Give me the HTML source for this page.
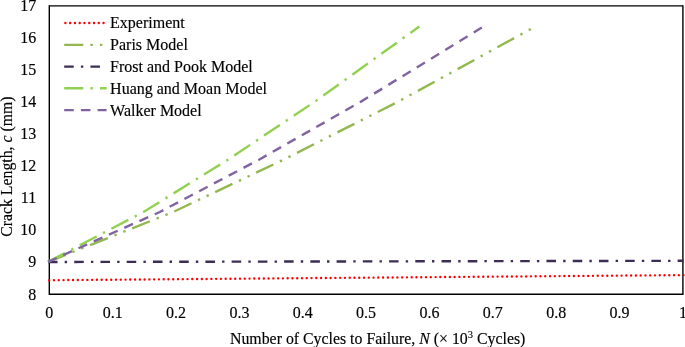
<!DOCTYPE html>
<html><head><meta charset="utf-8"><style>
html,body{margin:0;padding:0;background:#fff;}
svg{display:block;will-change:transform;}
text{font-family:"Liberation Serif",serif;font-size:16px;fill:#000;stroke:#000;stroke-width:0.15px;}
</style></head><body>
<svg width="685" height="347" viewBox="0 0 685 347">
<rect width="685" height="347" fill="#fff"/>
<g stroke="#000" stroke-width="1.4" fill="none">
<path d="M49.30,5.20 V294.90"/>
<path d="M682.90,5.20 V294.90"/>
<path d="M49.30,5.90 H682.90"/>
<path d="M49.30,294.20 H682.90"/>
</g>
<g fill="none" stroke-width="2.385">
<path d="M49.19,280.2 L684.10,275.1" stroke="#FF0000" stroke-dasharray="0.01 4.760" stroke-linecap="round"/>
<path d="M48.00,261.86 L173.15,211.98 L283.46,159.71 L398.72,101.39 L535.32,26.53" stroke="#93B850" stroke-dasharray="19.080 7.155 2.385 7.155 2.385 7.155"/>
<path d="M48.00,262.0 L683.50,260.8" stroke="#3D2D56" stroke-dasharray="9.540 7.155 2.385 7.155"/>
<path d="M48.00,261.86 L143.49,211.98 L227.93,159.71 L315.20,101.39 L419.31,26.53" stroke="#92D050" stroke-dasharray="19.080 7.155 2.385 7.155"/>
<path d="M48.00,261.86 L159.78,211.98 L258.95,159.71 L361.43,101.39 L483.40,26.53" stroke="#8064A2" stroke-dasharray="9.540 7.155"/>
</g>

<path d="M65.39,23.0 L106.60,23.0" stroke="#FF0000" stroke-width="2.385" stroke-dasharray="0.01 4.760" stroke-linecap="round" fill="none"/><text x="110.1" y="28.40">Experiment</text><path d="M64.20,44.9 L106.60,44.9" stroke="#93B850" stroke-width="2.385" stroke-dasharray="19.080 7.155 2.385 7.155 2.385 7.155" stroke-linecap="butt" fill="none"/><text x="110.1" y="50.30">Paris Model</text><path d="M64.20,66.6 L106.60,66.6" stroke="#3D2D56" stroke-width="2.385" stroke-dasharray="9.540 7.155 2.385 7.155" stroke-linecap="butt" fill="none"/><text x="110.1" y="72.00">Frost and Pook Model</text><path d="M64.20,88.3 L106.60,88.3" stroke="#92D050" stroke-width="2.385" stroke-dasharray="19.080 7.155 2.385 7.155" stroke-linecap="butt" fill="none"/><text x="110.1" y="93.70">Huang and Moan Model</text><path d="M64.20,110.1 L106.60,110.1" stroke="#8064A2" stroke-width="2.385" stroke-dasharray="9.540 7.155" stroke-linecap="butt" fill="none"/><text x="110.1" y="115.50">Walker Model</text>
<text x="49.30" y="318.2" text-anchor="middle">0</text><text x="112.66" y="318.2" text-anchor="middle">0.1</text><text x="176.02" y="318.2" text-anchor="middle">0.2</text><text x="239.38" y="318.2" text-anchor="middle">0.3</text><text x="302.74" y="318.2" text-anchor="middle">0.4</text><text x="366.10" y="318.2" text-anchor="middle">0.5</text><text x="429.46" y="318.2" text-anchor="middle">0.6</text><text x="492.82" y="318.2" text-anchor="middle">0.7</text><text x="556.18" y="318.2" text-anchor="middle">0.8</text><text x="619.54" y="318.2" text-anchor="middle">0.9</text><text x="682.90" y="318.2" text-anchor="middle">1</text>
<text x="36.2" y="299.50" text-anchor="end">8</text><text x="36.2" y="267.47" text-anchor="end">9</text><text x="36.2" y="235.43" text-anchor="end">10</text><text x="36.2" y="203.40" text-anchor="end">11</text><text x="36.2" y="171.37" text-anchor="end">12</text><text x="36.2" y="139.33" text-anchor="end">13</text><text x="36.2" y="107.30" text-anchor="end">14</text><text x="36.2" y="75.27" text-anchor="end">15</text><text x="36.2" y="43.23" text-anchor="end">16</text><text x="36.2" y="11.20" text-anchor="end">17</text>
<text x="230.0" y="343.5" style="font-size:15.85px">Number of Cycles to Failure, <tspan font-style="italic">N</tspan> (× 10<tspan font-size="10.5" dy="-6">3</tspan><tspan dy="6"> Cycles)</tspan></text>
<text transform="translate(11.6,236.8) rotate(-90)" style="font-size:15.8px">Crack Length, <tspan font-style="italic">c</tspan> (mm)</text>
</svg>
</body></html>
